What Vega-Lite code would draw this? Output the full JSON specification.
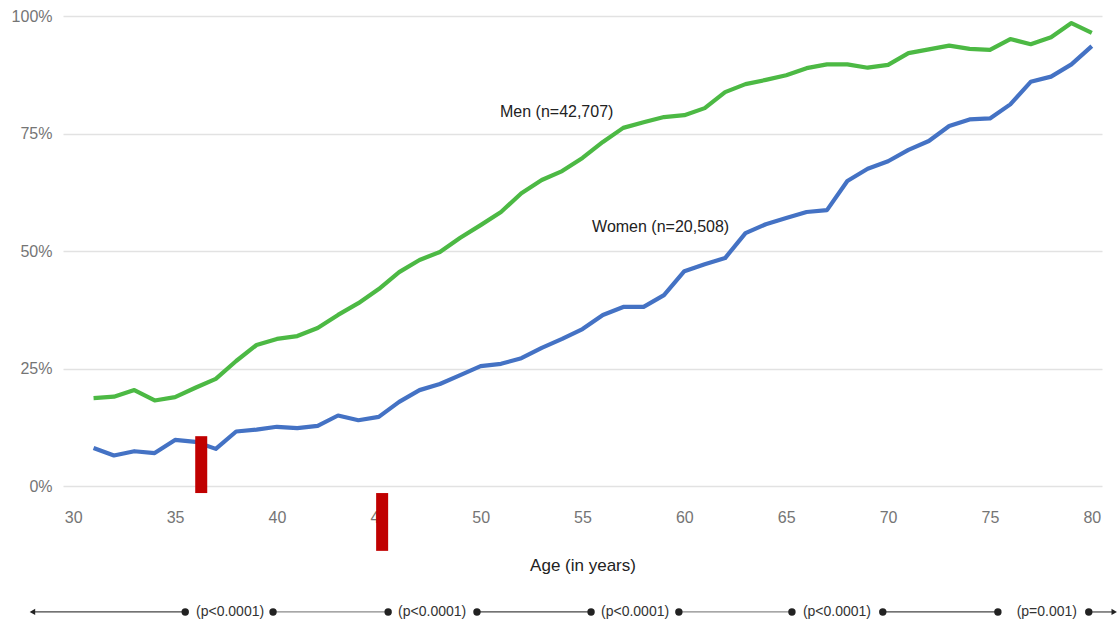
{
  "$schema": "https://vega.github.io/schema/vega-lite/v6.json",
  "width": 1039,
  "height": 470,
  "autosize": {"type": "none"},
  "padding": {"left": 63, "top": 16, "right": 18, "bottom": 138},
  "background": "white",
  "config": {
    "view": {"stroke": null},
    "font": "Liberation Sans"
  },
  "datasets": {
    "lines": [
      {"age": 31, "pct": 0.187, "sex": "Men"}, {"age": 32, "pct": 0.190, "sex": "Men"}, {"age": 33, "pct": 0.204, "sex": "Men"}, {"age": 34, "pct": 0.182, "sex": "Men"}, {"age": 35, "pct": 0.189, "sex": "Men"},
      {"age": 36, "pct": 0.209, "sex": "Men"}, {"age": 37, "pct": 0.228, "sex": "Men"}, {"age": 38, "pct": 0.266, "sex": "Men"}, {"age": 39, "pct": 0.300, "sex": "Men"}, {"age": 40, "pct": 0.313, "sex": "Men"},
      {"age": 41, "pct": 0.319, "sex": "Men"}, {"age": 42, "pct": 0.336, "sex": "Men"}, {"age": 43, "pct": 0.364, "sex": "Men"}, {"age": 44, "pct": 0.389, "sex": "Men"}, {"age": 45, "pct": 0.419, "sex": "Men"},
      {"age": 46, "pct": 0.455, "sex": "Men"}, {"age": 47, "pct": 0.481, "sex": "Men"}, {"age": 48, "pct": 0.498, "sex": "Men"}, {"age": 49, "pct": 0.528, "sex": "Men"}, {"age": 50, "pct": 0.555, "sex": "Men"},
      {"age": 51, "pct": 0.583, "sex": "Men"}, {"age": 52, "pct": 0.623, "sex": "Men"}, {"age": 53, "pct": 0.651, "sex": "Men"}, {"age": 54, "pct": 0.670, "sex": "Men"}, {"age": 55, "pct": 0.698, "sex": "Men"},
      {"age": 56, "pct": 0.732, "sex": "Men"}, {"age": 57, "pct": 0.762, "sex": "Men"}, {"age": 58, "pct": 0.774, "sex": "Men"}, {"age": 59, "pct": 0.785, "sex": "Men"}, {"age": 60, "pct": 0.789, "sex": "Men"},
      {"age": 61, "pct": 0.804, "sex": "Men"}, {"age": 62, "pct": 0.838, "sex": "Men"}, {"age": 63, "pct": 0.855, "sex": "Men"}, {"age": 64, "pct": 0.864, "sex": "Men"}, {"age": 65, "pct": 0.874, "sex": "Men"},
      {"age": 66, "pct": 0.889, "sex": "Men"}, {"age": 67, "pct": 0.897, "sex": "Men"}, {"age": 68, "pct": 0.897, "sex": "Men"}, {"age": 69, "pct": 0.890, "sex": "Men"}, {"age": 70, "pct": 0.896, "sex": "Men"},
      {"age": 71, "pct": 0.921, "sex": "Men"}, {"age": 72, "pct": 0.929, "sex": "Men"}, {"age": 73, "pct": 0.937, "sex": "Men"}, {"age": 74, "pct": 0.930, "sex": "Men"}, {"age": 75, "pct": 0.928, "sex": "Men"},
      {"age": 76, "pct": 0.951, "sex": "Men"}, {"age": 77, "pct": 0.940, "sex": "Men"}, {"age": 78, "pct": 0.955, "sex": "Men"}, {"age": 79, "pct": 0.985, "sex": "Men"}, {"age": 80, "pct": 0.964, "sex": "Men"},
      {"age": 31, "pct": 0.081, "sex": "Women"}, {"age": 32, "pct": 0.065, "sex": "Women"}, {"age": 33, "pct": 0.074, "sex": "Women"}, {"age": 34, "pct": 0.070, "sex": "Women"}, {"age": 35, "pct": 0.098, "sex": "Women"},
      {"age": 36, "pct": 0.094, "sex": "Women"}, {"age": 37, "pct": 0.079, "sex": "Women"}, {"age": 38, "pct": 0.116, "sex": "Women"}, {"age": 39, "pct": 0.120, "sex": "Women"}, {"age": 40, "pct": 0.126, "sex": "Women"},
      {"age": 41, "pct": 0.123, "sex": "Women"}, {"age": 42, "pct": 0.128, "sex": "Women"}, {"age": 43, "pct": 0.150, "sex": "Women"}, {"age": 44, "pct": 0.140, "sex": "Women"}, {"age": 45, "pct": 0.147, "sex": "Women"},
      {"age": 46, "pct": 0.179, "sex": "Women"}, {"age": 47, "pct": 0.204, "sex": "Women"}, {"age": 48, "pct": 0.217, "sex": "Women"}, {"age": 49, "pct": 0.236, "sex": "Women"}, {"age": 50, "pct": 0.255, "sex": "Women"},
      {"age": 51, "pct": 0.260, "sex": "Women"}, {"age": 52, "pct": 0.272, "sex": "Women"}, {"age": 53, "pct": 0.294, "sex": "Women"}, {"age": 54, "pct": 0.313, "sex": "Women"}, {"age": 55, "pct": 0.334, "sex": "Women"},
      {"age": 56, "pct": 0.364, "sex": "Women"}, {"age": 57, "pct": 0.381, "sex": "Women"}, {"age": 58, "pct": 0.381, "sex": "Women"}, {"age": 59, "pct": 0.406, "sex": "Women"}, {"age": 60, "pct": 0.457, "sex": "Women"},
      {"age": 61, "pct": 0.472, "sex": "Women"}, {"age": 62, "pct": 0.485, "sex": "Women"}, {"age": 63, "pct": 0.538, "sex": "Women"}, {"age": 64, "pct": 0.557, "sex": "Women"}, {"age": 65, "pct": 0.570, "sex": "Women"},
      {"age": 66, "pct": 0.583, "sex": "Women"}, {"age": 67, "pct": 0.587, "sex": "Women"}, {"age": 68, "pct": 0.649, "sex": "Women"}, {"age": 69, "pct": 0.675, "sex": "Women"}, {"age": 70, "pct": 0.691, "sex": "Women"},
      {"age": 71, "pct": 0.715, "sex": "Women"}, {"age": 72, "pct": 0.734, "sex": "Women"}, {"age": 73, "pct": 0.766, "sex": "Women"}, {"age": 74, "pct": 0.780, "sex": "Women"}, {"age": 75, "pct": 0.782, "sex": "Women"},
      {"age": 76, "pct": 0.812, "sex": "Women"}, {"age": 77, "pct": 0.860, "sex": "Women"}, {"age": 78, "pct": 0.871, "sex": "Women"}, {"age": 79, "pct": 0.897, "sex": "Women"}, {"age": 80, "pct": 0.936, "sex": "Women"}
    ],
    "bars": [
      {"age": 35.99, "age2": 36.58, "pct": 0.106, "pct2": -0.015},
      {"age": 44.87, "age2": 45.46, "pct": -0.015, "pct2": -0.138}
    ],
    "notes": [
      {"age": 50.95, "pct": 0.796, "label": "Men (n=42,707)"},
      {"age": 55.47, "pct": 0.551, "label": "Women (n=20,508)"}
    ],
    "darkSegs": [
      {"age": 28.0, "age2": 35.5, "pct": -0.268},
      {"age": 49.82, "age2": 55.42, "pct": -0.268},
      {"age": 69.74, "age2": 75.39, "pct": -0.268},
      {"age": 79.85, "age2": 81.0, "pct": -0.268}
    ],
    "lightSegs": [
      {"age": 39.81, "age2": 45.46, "pct": -0.268},
      {"age": 59.73, "age2": 65.28, "pct": -0.268}
    ],
    "dots": [
      {"age": 35.5, "pct": -0.268}, {"age": 39.81, "pct": -0.268},
      {"age": 45.46, "pct": -0.268}, {"age": 49.82, "pct": -0.268},
      {"age": 55.42, "pct": -0.268}, {"age": 59.73, "pct": -0.268},
      {"age": 65.28, "pct": -0.268}, {"age": 69.74, "pct": -0.268},
      {"age": 75.39, "pct": -0.268}, {"age": 79.85, "pct": -0.268}
    ],
    "leftArrow": [{"age": 28.0, "pct": -0.268}],
    "rightArrow": [{"age": 81.1, "pct": -0.268}],
    "pvals": [
      {"age": 37.70, "pct": -0.268, "label": "(p<0.0001)"},
      {"age": 47.62, "pct": -0.268, "label": "(p<0.0001)"},
      {"age": 57.58, "pct": -0.268, "label": "(p<0.0001)"},
      {"age": 67.49, "pct": -0.268, "label": "(p<0.0001)"},
      {"age": 77.79, "pct": -0.268, "label": "(p=0.001)"}
    ]
  },
  "layer": [
    {
      "data": {"name": "lines"},
      "mark": {"type": "line", "strokeWidth": 4.2, "strokeJoin": "round"},
      "encoding": {
        "x": {
          "field": "age", "type": "quantitative",
          "scale": {"domain": [29.5, 80.5], "nice": false, "zero": false},
          "axis": {
            "values": [30, 35, 40, 45, 50, 55, 60, 65, 70, 75, 80],
            "title": "Age (in years)", "grid": false, "domain": false, "ticks": false,
            "labelPadding": 23, "labelFontSize": 16, "labelColor": "#757575",
            "titleFontSize": 17, "titleColor": "#222222", "titleFontWeight": "normal", "titlePadding": 32
          }
        },
        "y": {
          "field": "pct", "type": "quantitative",
          "scale": {"domain": [0, 1], "nice": false},
          "axis": {
            "values": [0, 0.25, 0.5, 0.75, 1], "format": ".0%", "title": null,
            "domain": false, "ticks": false, "labelPadding": 11,
            "labelFontSize": 16, "labelColor": "#757575",
            "gridColor": "#e2e2e2", "gridWidth": 1.5
          }
        },
        "color": {
          "field": "sex", "type": "nominal",
          "scale": {"domain": ["Men", "Women"], "range": ["#4cb944", "#4472c4"]},
          "legend": null
        }
      }
    },
    {
      "data": {"name": "bars"},
      "mark": {"type": "rect", "color": "#c00000"},
      "encoding": {
        "x": {"field": "age", "type": "quantitative"},
        "x2": {"field": "age2"},
        "y": {"field": "pct", "type": "quantitative"},
        "y2": {"field": "pct2"}
      }
    },
    {
      "data": {"name": "notes"},
      "mark": {"type": "text", "align": "left", "baseline": "middle", "fontSize": 16, "color": "#222222"},
      "encoding": {
        "x": {"field": "age", "type": "quantitative"},
        "y": {"field": "pct", "type": "quantitative"},
        "text": {"field": "label"}
      }
    },
    {
      "data": {"name": "darkSegs"},
      "mark": {"type": "rule", "color": "#444444", "strokeWidth": 1.2},
      "encoding": {
        "x": {"field": "age", "type": "quantitative"},
        "x2": {"field": "age2"},
        "y": {"field": "pct", "type": "quantitative"}
      }
    },
    {
      "data": {"name": "lightSegs"},
      "mark": {"type": "rule", "color": "#8a8a8a", "strokeWidth": 1.2},
      "encoding": {
        "x": {"field": "age", "type": "quantitative"},
        "x2": {"field": "age2"},
        "y": {"field": "pct", "type": "quantitative"}
      }
    },
    {
      "data": {"name": "dots"},
      "mark": {"type": "point", "filled": true, "color": "#222222", "size": 55, "opacity": 1},
      "encoding": {
        "x": {"field": "age", "type": "quantitative"},
        "y": {"field": "pct", "type": "quantitative"}
      }
    },
    {
      "data": {"name": "leftArrow"},
      "mark": {"type": "point", "shape": "triangle-left", "filled": true, "color": "#222222", "size": 40, "opacity": 1},
      "encoding": {
        "x": {"field": "age", "type": "quantitative"},
        "y": {"field": "pct", "type": "quantitative"}
      }
    },
    {
      "data": {"name": "rightArrow"},
      "mark": {"type": "point", "shape": "triangle-right", "filled": true, "color": "#222222", "size": 40, "opacity": 1},
      "encoding": {
        "x": {"field": "age", "type": "quantitative"},
        "y": {"field": "pct", "type": "quantitative"}
      }
    },
    {
      "data": {"name": "pvals"},
      "mark": {"type": "text", "align": "center", "baseline": "middle", "fontSize": 14, "color": "#333333"},
      "encoding": {
        "x": {"field": "age", "type": "quantitative"},
        "y": {"field": "pct", "type": "quantitative"},
        "text": {"field": "label"}
      }
    }
  ]
}
